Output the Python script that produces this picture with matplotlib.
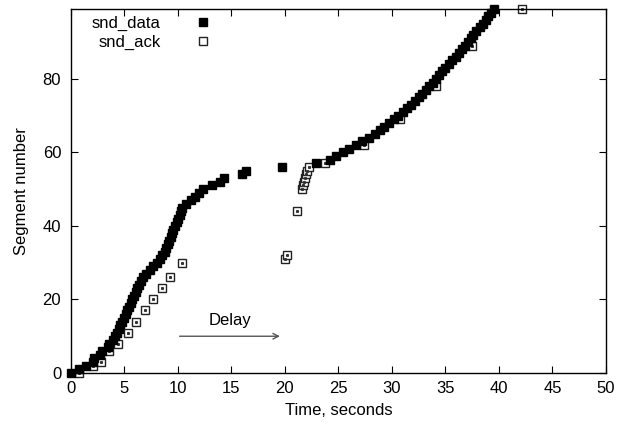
import matplotlib
matplotlib.use("Agg")
import matplotlib.pyplot as plt

plt.rcParams['font.family'] = ['Liberation Sans', 'DejaVu Sans']

# snd_data: segment number and send time (seconds)
data_seg = list(range(0, 100))
data_time = [0.0, 0.75, 1.4, 2.1, 2.2, 2.7, 2.9, 3.5, 3.55, 3.95,
             4.15, 4.3, 4.45, 4.6, 4.8, 4.95, 5.1, 5.25, 5.4, 5.6,
             5.75, 5.9, 6.05, 6.2, 6.35, 6.55, 6.75, 7.05, 7.4, 7.7,
             8.0, 8.3, 8.55, 8.75, 8.9, 9.05, 9.2, 9.35, 9.45, 9.55,
             9.75, 9.9, 10.0, 10.15, 10.25, 10.4, 10.75, 11.2, 11.6, 11.95,
             12.3, 13.15, 13.9, 14.3, 15.95, 16.4, 19.7, 22.9, 24.2, 24.8,
             25.4, 26.0, 26.6, 27.2, 27.85, 28.4, 28.9, 29.3, 29.75, 30.2,
             30.6, 31.0, 31.4, 31.8, 32.2, 32.55, 32.85, 33.2, 33.5, 33.8,
             34.1, 34.4, 34.7, 35.0, 35.35, 35.65, 35.95, 36.25, 36.55, 36.85,
             37.1, 37.35, 37.6, 37.9, 38.2, 38.5, 38.75, 39.0, 39.25, 39.5]

# snd_ack: acknowledged segment and time
ack_time = [0.77, 2.1, 2.8, 3.57, 4.4, 5.35, 6.1, 6.9, 7.7, 8.5, 9.25, 10.35,
            20.0, 20.15, 21.15, 21.55, 21.65, 21.75, 21.85, 21.95, 22.1, 22.25,
            23.7, 27.4, 30.8, 34.1, 37.45, 42.2]
ack_seg = [0, 2, 3, 6, 8, 11, 14, 17, 20, 23, 26, 30,
           31, 32, 44, 50, 51, 52, 53, 54, 55, 56,
           57, 62, 69, 78, 89, 99]

x_ticks = [0, 5, 10, 15, 20, 25, 30, 35, 40, 45, 50]
y_ticks = [0, 20, 40, 60, 80]

fig = plt.figure(figsize=(6.17, 4.26), dpi=100)
ax = fig.add_axes([0.115, 0.1244, 0.867, 0.8545])

ax.plot(data_time, data_seg, linestyle='none', marker='s', markersize=5.2,
        color='black', label='snd_data', clip_on=False, zorder=3)
ax.plot(ack_time, ack_seg, linestyle='none', marker='s', markersize=5.6,
        markerfacecolor='white', markeredgecolor='#222222', markeredgewidth=1.0,
        label='snd_ack', clip_on=False, zorder=2)
ax.plot(ack_time, ack_seg, linestyle='none', marker='s', markersize=1.2,
        color='#333333', clip_on=False, zorder=2.5)

ax.set_xlim(0, 50)
ax.set_ylim(0, 99)
ax.set_xticks(x_ticks)
ax.set_yticks(y_ticks)
ax.tick_params(direction='in', top=True, right=True, labelsize=12, length=5, width=0.8)
ax.tick_params(axis='x', pad=6)
ax.tick_params(axis='y', pad=7)
for s in ax.spines.values():
    s.set_linewidth(1.0)

ax.set_xlabel('Time, seconds', fontsize=12, labelpad=5)
ax.set_ylabel('Segment number', fontsize=12, labelpad=10)

ax.annotate('', xy=(19.8, 10), xytext=(9.9, 10),
            arrowprops=dict(arrowstyle='->', color='#555555', lw=1.0))
ax.text(14.9, 14.4, 'Delay', fontsize=12, ha='center', va='center')

leg = ax.legend(loc='upper left', frameon=False, fontsize=12, markerfirst=False,
                handlelength=1.0, handletextpad=2.05, borderaxespad=0.2,
                labelspacing=0.2, bbox_to_anchor=(0.02, 1.008))
for t in leg.get_texts():
    t.set_ha('right')

fig.savefig('out.png', dpi=100)
